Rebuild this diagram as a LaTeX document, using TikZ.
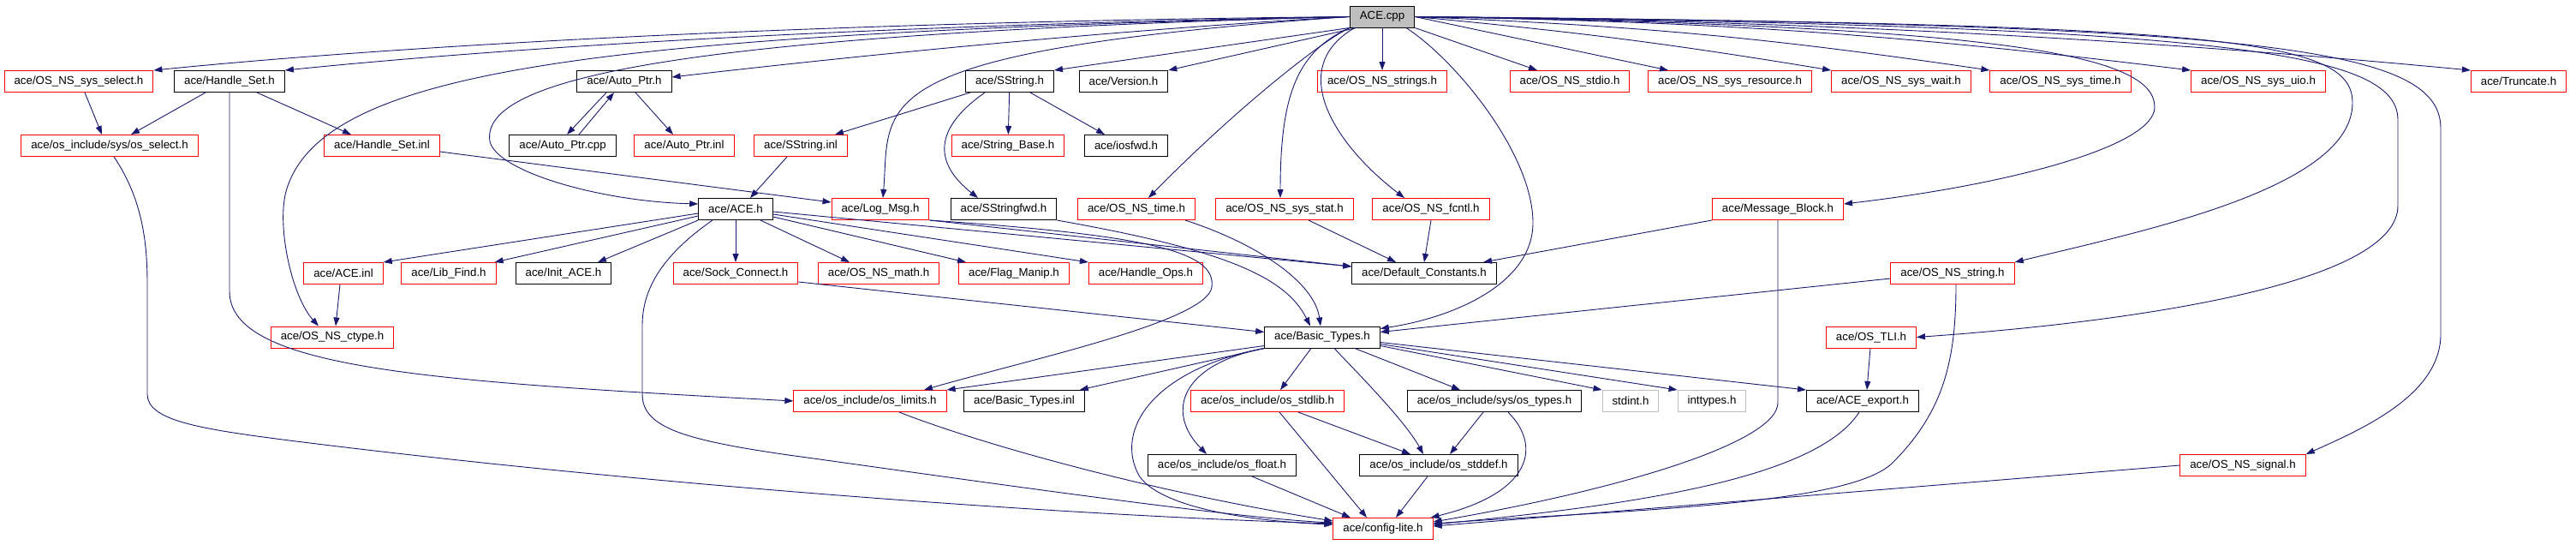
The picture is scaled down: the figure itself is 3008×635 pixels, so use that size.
\documentclass[tikz,border=0pt]{standalone}
\usepackage{fontspec}
\setmainfont{Liberation Sans}
\usetikzlibrary{arrows.meta}
\definecolor{edgeblue}{HTML}{191970}
\definecolor{boxgray}{HTML}{BFBFBF}

\begin{document}
\begin{tikzpicture}[x=1pt, y=-1pt,
    incfile/.style={draw, line width=1pt, minimum height=25pt, inner xsep=11.5pt, inner ysep=0pt,
                    font=\fontsize{13.3pt}{16pt}\selectfont},
    blkfile/.style={incfile, draw=black},
    redfile/.style={incfile, draw=red},
    sysfile/.style={incfile, draw=boxgray},
    dep/.style={draw=edgeblue, line width=0.9pt, -{Triangle[length=10pt,width=7pt]}}]
    \useasboundingbox (0,0) rectangle (3008,635);

    % the files, row by row
    \node[blkfile, fill=boxgray] (cpp) at (1614,19.5) {ACE.cpp};

    \def\y{95};
    \foreach \id/\st/\name/\x in {sel/redfile/{OS\_NS\_sys\_select.h}/92, hset/blkfile/{Handle\_Set.h}/268,
        aptr/blkfile/{Auto\_Ptr.h}/729, sstr/blkfile/{SString.h}/1179, ver/blkfile/{Version.h}/1312,
        strs/redfile/{OS\_NS\_strings.h}/1614, stdio/redfile/{OS\_NS\_stdio.h}/1833,
        res/redfile/{OS\_NS\_sys\_resource.h}/2020, wait/redfile/{OS\_NS\_sys\_wait.h}/2220,
        stime/redfile/{OS\_NS\_sys\_time.h}/2406, uio/redfile/{OS\_NS\_sys\_uio.h}/2637,
        trunc/redfile/{Truncate.h}/2941}
        \node[\st] (\id) at (\x,\y) {ace/\name};

    \def\y{170};
    \foreach \id/\st/\name/\x in {ossel/redfile/{os\_include/sys/os\_select.h}/128, hsinl/redfile/{Handle\_Set.inl}/446,
        apcpp/blkfile/{Auto\_Ptr.cpp}/657, apinl/redfile/{Auto\_Ptr.inl}/799, ssinl/redfile/{SString.inl}/935,
        sbase/redfile/{String\_Base.h}/1177, iosfwd/blkfile/{iosfwd.h}/1315}
        \node[\st] (\id) at (\x,\y) {ace/\name};

    \def\y{244};
    \foreach \id/\st/\name/\x in {aceh/blkfile/{ACE.h}/859, logmsg/redfile/{Log\_Msg.h}/1028,
        ssfwd/blkfile/{SStringfwd.h}/1172, nstime/redfile/{OS\_NS\_time.h}/1327,
        sstat/redfile/{OS\_NS\_sys\_stat.h}/1500, fcntl/redfile/{OS\_NS\_fcntl.h}/1671,
        mblock/redfile/{Message\_Block.h}/2076}
        \node[\st] (\id) at (\x,\y) {ace/\name};

    \def\y{319};
    \foreach \id/\st/\name/\x in {aceinl/redfile/{ACE.inl}/401, libfind/redfile/{Lib\_Find.h}/524,
        initace/blkfile/{Init\_ACE.h}/658, sockc/redfile/{Sock\_Connect.h}/859, math/redfile/{OS\_NS\_math.h}/1026,
        flag/redfile/{Flag\_Manip.h}/1184, hops/redfile/{Handle\_Ops.h}/1338,
        defc/blkfile/{Default\_Constants.h}/1663, nsstring/redfile/{OS\_NS\_string.h}/2280}
        \node[\st] (\id) at (\x,\y) {ace/\name};

    \def\y{393.5};
    \foreach \id/\st/\name/\x in {ctype/redfile/{OS\_NS\_ctype.h}/388, btypes/blkfile/{Basic\_Types.h}/1544,
        tli/redfile/{OS\_TLI.h}/2185}
        \node[\st] (\id) at (\x,\y) {ace/\name};

    \def\y{468};
    \foreach \id/\st/\name/\x in {limits/redfile/{os\_include/os\_limits.h}/1016, btinl/blkfile/{Basic\_Types.inl}/1196,
        stdlib/redfile/{os\_include/os\_stdlib.h}/1480, ostypes/blkfile/{os\_include/sys/os\_types.h}/1745,
        export/blkfile/{ACE\_export.h}/2175}
        \node[\st] (\id) at (\x,\y) {ace/\name};
    \node[sysfile] (stdint) at (1904,\y) {stdint.h};
    \node[sysfile] (inttypes) at (1999,\y) {inttypes.h};

    \def\y{543};
    \foreach \id/\st/\name/\x in {float/blkfile/{os\_include/os\_float.h}/1427,
        stddef/blkfile/{os\_include/os\_stddef.h}/1680, signal/redfile/{OS\_NS\_signal.h}/2619}
        \node[\st] (\id) at (\x,\y) {ace/\name};

    \node[redfile] (config) at (1615,617) {ace/config-lite.h};

    % ACE.cpp, to the left
    \draw[dep] (cpp.west) .. controls (1000,25) and (500,50) .. (sel.north east);
    \draw[dep] (cpp.west) .. controls (1000,30) and (600,55) .. (hset.north east);
    \draw[dep] (cpp.west) .. controls (1300,35) and (1000,65) .. ([yshift=5pt]aptr.east);
    \draw[dep] (cpp.south west) -- (sstr.north east);
    \draw[dep] ([xshift=8pt]cpp.south west) -- (ver.north east);
    \draw[dep] (cpp.west) .. controls (800,40) and (560,90) .. (572,165) .. controls (580,200) and (700,235) .. ([yshift=6pt]aceh.west);
    \draw[dep] (cpp.west) .. controls (700,40) and (380,80) .. (335,220) .. controls (322,260) and (340,345) .. ([xshift=-16pt]ctype.north);
    \draw[dep] (cpp.west) .. controls (1000,60) and (1040,120) .. ([xshift=3pt]logmsg.north);
    \draw[dep] (cpp.south west) .. controls (1540,50) and (1440,130) .. ([xshift=14pt]nstime.north);
    \draw[dep] (cpp.south west) .. controls (1515,60) and (1495,110) .. ([xshift=-5pt]sstat.north);
    \draw[dep] ([xshift=6pt]cpp.south west) .. controls (1500,80) and (1560,170) .. ([xshift=-31pt]fcntl.north);

    % ACE.cpp, down and to the right
    \draw[dep] (cpp) -- (strs);
    \draw[dep] (cpp.south east) -- ([xshift=-38pt]stdio.north);
    \draw[dep] (cpp.east) -- ([xshift=-72pt]res.north);
    \draw[dep] (cpp.east) to[bend left=2] (wait.north west);
    \draw[dep] (cpp.east) to[bend left=3] (stime.north west);
    \draw[dep] (cpp.east) to[bend left=3] (uio.north west);
    \draw[dep] (cpp.east) .. controls (2200,25) and (2600,55) .. (trunc.north west);
    \draw[dep] ([xshift=28pt]cpp.south) .. controls (1700,70) and (1790,180) .. (1790,260) .. controls (1790,330) and (1700,370) .. ([yshift=10pt]btypes.east);
    \draw[dep] (cpp.east) .. controls (2350,30) and (2516,65) .. (2516,125) .. controls (2516,170) and (2350,215) .. ([yshift=6pt]mblock.east);
    \draw[dep] (cpp.east) .. controls (2600,28) and (2747,45) .. (2747,120) .. controls (2747,220) and (2500,270) .. (nsstring.north east);
    \draw[dep] (cpp.east) .. controls (2600,30) and (2800,60) .. (2800,140) -- (2800,240) .. controls (2800,330) and (2500,375) .. (tli.east);
    \draw[dep] (cpp.east) .. controls (2650,28) and (2850,55) .. (2850,150) -- (2850,390) .. controls (2850,460) and (2760,500) .. (signal.north east);

    % second row
    \draw[dep] ([xshift=7pt]sel.south) -- ([xshift=-9pt]ossel.north);
    \draw[dep] ([xshift=-28pt]hset.south) -- ([xshift=25pt]ossel.north);
    \draw[dep] ([xshift=32pt]hset.south) -- ([xshift=-36pt]hsinl.north);
    \draw[dep] (hset.south) -- (268,340) .. controls (268,430) and (500,445) .. (limits.west);
    \draw[dep] ([xshift=-21pt]aptr.south) -- ([xshift=5pt]apcpp.north);
    \draw[dep] ([xshift=19pt]apcpp.north) -- ([xshift=-12pt]aptr.south);
    \draw[dep] ([xshift=13pt]aptr.south) -- ([xshift=-13pt]apinl.north);
    \draw[dep] ([xshift=-46pt]sstr.south) -- ([xshift=40pt]ssinl.north);
    \draw[dep] (sstr) -- (sbase);
    \draw[dep] ([xshift=24pt]sstr.south) -- ([xshift=-25pt]iosfwd.north);
    \draw[dep] ([xshift=-29pt]sstr.south) .. controls (1090,150) and (1090,190) .. ([xshift=-30pt]ssfwd.north);
    \draw[dep] ([xshift=5pt]ossel.south) .. controls (165,230) and (172,280) .. (172,330) -- (172,460) .. controls (172,490) and (230,500) .. (330,513) .. controls (700,560) and (1200,600) .. ([yshift=6pt]config.west);
    \draw[dep] ([yshift=-7pt]hsinl.east) -- ([yshift=8pt]logmsg.west);
    \draw[dep] ([xshift=-16pt]ssinl.south) -- ([xshift=17pt]aceh.north);

    % ACE.h
    \draw[dep] ([yshift=-5pt]aceh.west) -- (aceinl.north east);
    \draw[dep] ([yshift=-8pt]aceh.west) -- ([xshift=-2pt]libfind.north east);
    \draw[dep] (aceh.south west) -- ([xshift=40pt]initace.north);
    \draw[dep] (aceh) -- (sockc);
    \draw[dep] ([xshift=29pt]aceh.south) -- ([xshift=-34pt]math.north);
    \draw[dep] ([yshift=-9pt]aceh.east) -- ([xshift=-56pt]flag.north);
    \draw[dep] ([yshift=-6pt]aceh.east) -- (hops.north west);
    \draw[dep] ([yshift=-3pt]aceh.east) -- ([yshift=8pt]defc.west);
    \draw[dep] ([xshift=-27pt]aceh.south) .. controls (770,300) and (750,340) .. (750,380) -- (750,460) .. controls (750,500) and (800,515) .. (950,535) .. controls (1200,570) and (1450,605) .. ([yshift=7pt]config.west);
    \draw[dep] ([xshift=-4pt]aceinl.south) -- ([xshift=4pt]ctype.north);

    % Log_Msg.h and the third row
    \draw[dep] (logmsg.south east) -- ([yshift=8pt]defc.west);
    \draw[dep] (logmsg.south east) .. controls (1350,275) and (1420,295) .. (1415,335) .. controls (1410,375) and (1200,420) .. ([xshift=63pt]limits.north);
    \draw[dep] (ssfwd.south east) .. controls (1420,290) and (1500,320) .. ([xshift=-14pt]btypes.north);
    \draw[dep] ([xshift=57pt]nstime.south) .. controls (1470,285) and (1535,330) .. ([xshift=-2pt]btypes.north);
    \draw[dep] ([xshift=28pt]sstat.south) -- ([xshift=-33pt]defc.north);
    \draw[dep] (fcntl.south) -- (defc.north);
    \draw[dep] (mblock.south west) -- ([xshift=69pt]defc.north);
    \draw[dep] (mblock.south) -- (2076,470) .. controls (2076,515) and (1900,570) .. ([yshift=8pt]config.east);
    \draw[dep] ([yshift=-10pt]sockc.east) -- ([yshift=6pt]btypes.west);
    \draw[dep] ([yshift=-6pt]nsstring.west) -- ([yshift=6pt]btypes.east);
    \draw[dep] ([xshift=4pt]nsstring.south) .. controls (2284,420) and (2270,480) .. (2210,540) .. controls (2160,590) and (1900,595) .. ([yshift=6pt]config.east);
    \draw[dep] (tli) -- ([xshift=5pt]export.north);
    \draw[dep] (signal.west) -- ([yshift=3pt]config.east);
    \draw[dep] ([xshift=-4pt]export.south) .. controls (2120,560) and (1900,590) .. ([yshift=5pt]config.east);

    % Basic_Types.h
    \draw[dep] ([yshift=-10pt]btypes.west) -- (limits.north east);
    \draw[dep] (btypes.south west) -- ([xshift=-6pt]btinl.north east);
    \draw[dep] ([xshift=-13pt]btypes.south) -- ([xshift=15pt]stdlib.north);
    \draw[dep] ([xshift=38pt]btypes.south) -- ([xshift=-40pt]ostypes.north);
    \draw[dep] ([yshift=-10pt]btypes.east) -- (stdint.north west);
    \draw[dep] ([yshift=-8pt]btypes.east) -- (inttypes.north west);
    \draw[dep] ([yshift=-6pt]btypes.east) -- (export.north west);
    \draw[dep] ([xshift=14pt]btypes.south) .. controls (1580,430) and (1640,490) .. ([xshift=-18pt]stddef.north);
    \draw[dep] (btypes.south west) .. controls (1380,425) and (1360,480) .. ([xshift=-18pt]float.north);
    \draw[dep] (btypes.south west) .. controls (1350,430) and (1300,500) .. (1330,555) .. controls (1360,600) and (1500,610) .. ([yshift=5pt]config.west);

    % down to config-lite.h
    \draw[dep] ([xshift=36pt]stdlib.south) -- ([xshift=-33pt]stddef.north);
    \draw[dep] ([xshift=14pt]stdlib.south) -- ([xshift=-19pt]config.north);
    \draw[dep] ([xshift=-13pt]ostypes.south) -- ([xshift=13pt]stddef.north);
    \draw[dep] ([xshift=16pt]ostypes.south) .. controls (1800,520) and (1790,575) .. ([xshift=-3pt]config.north east);
    \draw[dep] ([xshift=-13pt]stddef.south) -- ([xshift=15pt]config.north);
    \draw[dep] ([xshift=35pt]float.south) -- ([xshift=-38pt]config.north);
    \draw[dep] ([xshift=34pt]limits.south) .. controls (1150,520) and (1350,575) .. ([yshift=9pt]config.west);

\end{tikzpicture}
\end{document}
